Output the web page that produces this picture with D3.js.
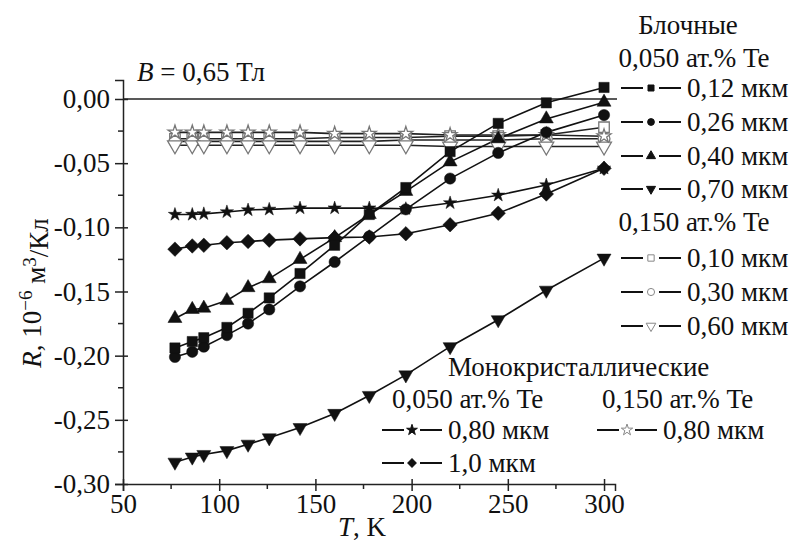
<!DOCTYPE html>
<html>
<head>
<meta charset="utf-8">
<script src="https://cdn.jsdelivr.net/npm/d3@7"></script>
<style>
  body { margin: 0; background: #fff; }
</style>
</head>
<body>
<svg id="chart" width="797" height="545"></svg>
<script>
// Hall coefficient R vs temperature T, Bi films (B = 0,65 Тл)

// =====================
// Data
// =====================
const temps = [77, 86, 92, 104, 115, 126, 142, 160, 178, 197, 220, 245, 270, 300];

// Блочные, 0,050 ат.% Te
const blk012 = [-0.194, -0.189, -0.186, -0.178, -0.167, -0.155, -0.136, -0.114, -0.090, -0.069, -0.041, -0.019, -0.003, 0.009];
const blk026 = [-0.201, -0.197, -0.193, -0.184, -0.175, -0.164, -0.146, -0.127, -0.107, -0.086, -0.062, -0.042, -0.026, -0.0125];
const blk040 = [-0.171, -0.164, -0.163, -0.157, -0.147, -0.140, -0.125, -0.108, -0.090, -0.072, -0.049, -0.031, -0.0155, -0.0025];
const blk070 = [-0.283, -0.279, -0.277, -0.274, -0.269, -0.264, -0.256, -0.245, -0.231, -0.215, -0.193, -0.172, -0.149, -0.124];
// Блочные, 0,150 ат.% Te
const blk010 = [-0.031, -0.031, -0.031, -0.031, -0.031, -0.031, -0.031, -0.030, -0.030, -0.030, -0.029, -0.029, -0.028, -0.022];
const blk030 = [-0.033, -0.033, -0.033, -0.033, -0.033, -0.033, -0.033, -0.033, -0.033, -0.032, -0.032, -0.032, -0.031, -0.031];
const blk060 = [-0.036, -0.036, -0.036, -0.036, -0.036, -0.036, -0.036, -0.036, -0.036, -0.036, -0.037, -0.037, -0.037, -0.037];
// Монокристаллические
const mono080a = [-0.090, -0.090, -0.0895, -0.088, -0.0865, -0.086, -0.085, -0.085, -0.085, -0.0855, -0.081, -0.075, -0.067, -0.054];
const mono10a  = [-0.117, -0.1145, -0.114, -0.112, -0.111, -0.110, -0.109, -0.108, -0.1075, -0.105, -0.098, -0.089, -0.074, -0.054];
const mono080b = [-0.026, -0.026, -0.026, -0.026, -0.026, -0.026, -0.026, -0.027, -0.027, -0.027, -0.028, -0.028, -0.028, -0.029];

const xTicks = [50, 100, 150, 200, 250, 300],
      xMinor = [75, 125, 175, 225, 275],
      yTicks = [0, -0.05, -0.10, -0.15, -0.20, -0.25, -0.30],
      yMinor = [-0.025, -0.075, -0.125, -0.175, -0.225, -0.275];

// series: values, symbol, open?, rotation
const series = [
  { v: blk010,   sym: d3.symbolSquare,   size: 110, open: true,  rot: 0 },
  { v: blk030,   sym: d3.symbolCircle,   size: 110, open: true,  rot: 0 },
  { v: blk060,   sym: d3.symbolTriangle, size: 95,  open: true,  rot: 180 },
  { v: mono080b, sym: d3.symbolStar,     size: 60,  open: true,  rot: 0 },
  { v: mono10a,  sym: d3.symbolSquare,   size: 105, open: false, rot: 45 },
  { v: mono080a, sym: d3.symbolStar,     size: 55,  open: false, rot: 0 },
  { v: blk070,   sym: d3.symbolTriangle, size: 85,  open: false, rot: 180 },
  { v: blk040,   sym: d3.symbolTriangle, size: 85,  open: false, rot: 0 },
  { v: blk026,   sym: d3.symbolCircle,   size: 100, open: false, rot: 0 },
  { v: blk012,   sym: d3.symbolSquare,   size: 105, open: false, rot: 0 }
];

const serif = "'Liberation Serif', 'DejaVu Serif', serif",
      fSize = '27px';
const svg = d3.select('#chart');
const fmt = d => d3.format('.2f')(d).replace('.', ',').replace('−', '-');

// =====================
// Scales
// =====================
const x = d3.scaleLinear([50, 305.7], [123, 615]);
const y = d3.scaleLinear([-0.30, 0.0148], [484, 80]);

// =====================
// Axes (major ticks cross the line, minor ticks outside)
// =====================
const xAxis = svg.append('g')
  .attr('transform', 'translate(0,484)')
  .call(d3.axisBottom(x).tickValues(xTicks).tickSizeOuter(0).tickSize(7).tickPadding(3).tickFormat(d => d));
xAxis.selectAll('.tick line').attr('y1', -5);
xAxis.selectAll('.minor').data(xMinor).enter().append('line')
  .attr('x1', d => x(d)).attr('x2', d => x(d)).attr('y1', 0).attr('y2', 5)
  .attr('stroke', '#222').attr('stroke-width', 1.5);

const yAxis = svg.append('g')
  .attr('transform', 'translate(123,0)')
  .call(d3.axisLeft(y).tickValues(yTicks).tickSizeOuter(0).tickSize(8).tickPadding(5).tickFormat(fmt));
yAxis.selectAll('.tick line').attr('x1', 5);
yAxis.selectAll('.minor').data(yMinor).enter().append('line')
  .attr('x1', 0).attr('x2', -5).attr('y1', d => y(d)).attr('y2', d => y(d))
  .attr('stroke', '#222').attr('stroke-width', 1.5);

svg.selectAll('.domain, .tick line').attr('stroke', '#222').attr('stroke-width', 1.5);
svg.selectAll('.tick text').style('font-size', fSize);

// zero line
svg.append('line')
  .attr('x1', x(50)).attr('x2', x(305.7) + 2)
  .attr('y1', y(0)).attr('y2', y(0))
  .attr('stroke', '#222').attr('stroke-width', 1.5);

// =====================
// Curves and markers
// =====================
const line = d3.line().x((d, i) => x(temps[i])).y(d => y(d));

series.forEach(s => {
  svg.append('path')
    .attr('d', line(s.v))
    .attr('fill', 'none')
    .attr('stroke', s.open ? '#222' : '#111')
    .attr('stroke-width', 1.6);
});
series.forEach(s => {
  svg.append('g').selectAll('path')
    .data(s.v).enter().append('path')
    .attr('d', d3.symbol().type(s.sym).size(s.size))
    .attr('transform', (d, i) => 'translate(' + x(temps[i]) + ',' + y(d) + ') rotate(' + s.rot + ')')
    .attr('fill', s.open ? '#fff' : '#111')
    .attr('stroke', s.open ? '#777' : '#111')
    .attr('stroke-width', s.open ? 1.3 : 0.5);
});

// =====================
// Texts
// =====================
function label(xp, yp, anchor) {
  return svg.append('text').attr('x', xp).attr('y', yp).attr('dy', '0.33em')
    .attr('text-anchor', anchor || 'start').style('font-size', fSize);
}

const bt = label(137, 72);
bt.append('tspan').style('font-style', 'italic').text('B');
bt.append('tspan').text(' = 0,65 Тл');

const xt = label(362, 527, 'middle');
xt.append('tspan').style('font-style', 'italic').text('T');
xt.append('tspan').text(', K');

const yt = svg.append('text')
  .attr('transform', 'translate(32,293) rotate(-90)')
  .attr('text-anchor', 'middle').attr('dy', '0.33em').style('font-size', fSize);
yt.append('tspan').style('font-style', 'italic').text('R');
yt.append('tspan').text(', 10');
yt.append('tspan').attr('dy', '-0.45em').style('font-size', '19px').text('−6');
yt.append('tspan').attr('dy', '0.45em').text(' м');
yt.append('tspan').attr('dy', '-0.45em').style('font-size', '19px').text('3');
yt.append('tspan').attr('dy', '0.45em').text('/Кл');

// =====================
// Legend
// =====================
function legendRow(x0, yp, s, name) {
  svg.append('line').attr('x1', x0).attr('x2', x0 + 60).attr('y1', yp).attr('y2', yp)
    .attr('stroke', '#111').attr('stroke-width', 1.8);
  svg.append('rect').attr('x', x0 + 22).attr('y', yp - 6).attr('width', 16).attr('height', 12).attr('fill', '#fff');
  svg.append('path')
    .attr('d', d3.symbol().type(s.sym).size(s.open ? 40 : 36)())
    .attr('transform', 'translate(' + (x0 + 30) + ',' + yp + ') rotate(' + s.rot + ')')
    .attr('fill', s.open ? '#fff' : '#111')
    .attr('stroke', s.open ? '#888' : '#111')
    .attr('stroke-width', 1);
  label(x0 + 66, yp).text(name);
}

label(688, 25, 'middle').text('Блочные');
label(694, 58, 'middle').text('0,050 ат.% Te');
legendRow(621, 88, series[9], '0,12 мкм');
legendRow(621, 122, series[8], '0,26 мкм');
legendRow(621, 156, series[7], '0,40 мкм');
legendRow(621, 189, series[6], '0,70 мкм');
label(694, 222, 'middle').text('0,150 ат.% Te');
legendRow(621, 258, series[0], '0,10 мкм');
legendRow(621, 292, series[1], '0,30 мкм');
legendRow(621, 326, series[2], '0,60 мкм');

label(448, 367).text('Монокристаллические');
label(392, 399).text('0,050 ат.% Te');
label(602, 399).text('0,150 ат.% Te');
legendRow(382, 430, series[5], '0,80 мкм');
legendRow(382, 463, series[4], '1,0 мкм');
legendRow(597, 430, series[3], '0,80 мкм');

// font on every text element
svg.selectAll('text').style('font-family', serif).attr('fill', '#111');
</script>
</body>
</html>
